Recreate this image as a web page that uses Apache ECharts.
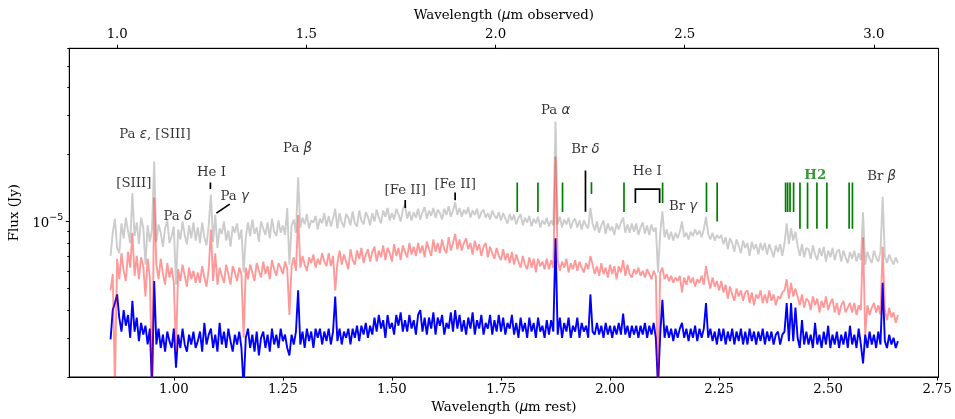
<!DOCTYPE html>
<html><head><meta charset="utf-8">
<script src="https://cdn.jsdelivr.net/npm/echarts@6/dist/echarts.min.js"></script>
<style>html,body{margin:0;padding:0;background:#fff}#c{width:955px;height:419px}</style>
</head><body><div id="c"></div>
<script>
// Rest-frame wavelength sampling of the spectra (µm)
const WL_START = 0.855, WL_STEP = 0.005;
// Flux values in units of 1e-6 Jy
const greyFlux = [
7.0,8.9,10.3,7.6,7.2,9.8,8.4,10.4,9.1,8.0,13.4,8.6,9.9,7.9,10.4,9.4,6.4,9.6,8.1,9.2,
18.6,8.1,9.7,8.9,7.7,9.3,10.1,8.0,8.6,9.5,5.2,9.2,8.3,10.0,8.7,7.9,9.6,8.4,9.9,8.2,
9.4,8.0,9.9,8.5,7.8,9.6,13.2,8.1,10.7,7.6,9.3,8.8,10.0,8.2,9.1,7.7,9.5,8.9,9.8,8.3,
9.2,5.9,8.5,9.9,8.6,10.2,8.8,9.4,8.1,10.0,9.3,8.7,9.9,8.4,10.3,9.0,8.6,10.1,8.9,9.6,
8.7,11.5,6.4,9.6,10.2,8.9,15.8,9.4,10.4,9.7,10.8,9.3,10.1,9.9,10.6,9.2,10.3,9.8,10.9,9.5,
10.6,9.5,10.3,11.4,9.3,10.9,9.9,9.4,10.8,10.4,9.6,11.1,9.8,9.5,11.2,10.1,9.7,11.0,10.5,9.6,
10.9,10.0,11.3,10.4,9.8,11.2,10.5,11.5,10.1,10.9,10.2,11.4,10.8,10.0,11.3,11.9,10.3,11.1,10.1,11.0,
10.4,11.4,10.2,11.0,11.6,10.3,11.2,10.6,11.5,10.4,11.3,10.9,10.2,11.4,10.7,11.7,10.5,11.2,12.2,10.7,
11.5,10.5,11.3,10.8,11.6,10.4,11.2,10.7,11.4,10.3,11.0,11.3,10.4,10.9,10.2,11.2,10.6,10.3,11.0,10.1,
10.9,10.3,9.8,10.8,10.1,10.7,9.7,10.4,10.8,9.6,10.4,9.9,10.6,9.5,10.3,9.8,10.5,9.4,10.1,9.7,
10.4,9.5,10.1,9.6,28.1,9.7,10.5,9.4,10.2,9.7,10.4,9.3,10.0,10.3,9.4,10.1,9.2,10.1,9.6,9.3,
11.5,9.8,9.1,10.0,8.9,9.6,10.1,8.8,9.8,9.1,9.5,8.7,9.8,9.2,9.9,10.4,8.9,9.7,8.9,9.8,
9.0,9.8,8.7,9.4,9.9,8.8,9.6,8.7,9.7,9.0,9.4,5.9,8.8,11.1,8.5,9.2,8.3,9.0,8.2,8.9,
8.4,9.0,10.0,8.5,8.9,8.3,9.0,8.6,9.2,8.7,9.1,8.5,9.2,10.5,8.8,8.3,8.9,8.2,8.7,8.4,
8.7,7.9,8.5,7.5,8.4,8.0,7.3,8.3,7.8,7.2,8.2,7.6,8.0,7.0,8.1,7.5,7.9,7.1,8.0,7.4,
8.0,7.1,7.9,7.4,6.9,7.8,7.3,7.9,7.0,8.0,9.8,7.9,9.3,8.2,9.0,7.8,7.0,7.9,6.9,7.6,
7.5,6.8,7.8,7.1,6.7,7.6,7.0,7.7,6.6,7.4,6.9,7.6,6.7,7.3,7.5,6.6,7.4,6.9,6.5,7.3,
6.8,7.4,6.6,7.2,6.7,11.0,6.4,7.3,6.8,6.5,7.4,6.9,6.6,7.3,12.9,7.0,6.5,7.1,6.7,6.4,
6.9,6.5
];
const redFlux = [
4.9,5.8,1.8,6.8,5.5,7.2,6.0,5.4,7.3,6.2,8.9,5.7,7.0,5.5,6.9,6.3,4.6,6.8,5.6,1.8,
12.8,6.4,5.5,6.8,5.8,5.2,6.5,5.6,6.2,5.3,2.6,6.1,5.4,6.4,5.7,5.1,6.2,5.5,6.0,5.3,
5.9,5.3,6.3,5.6,5.1,6.1,9.2,5.4,7.2,5.2,6.2,5.7,5.3,6.4,5.8,5.2,6.3,5.9,5.4,6.2,
5.8,3.0,6.2,5.5,6.4,5.9,5.4,6.5,6.0,5.6,6.6,5.8,6.3,5.5,6.7,6.1,5.7,6.5,6.2,5.8,
6.6,6.1,3.8,6.3,6.9,6.0,10.7,6.2,7.0,6.4,6.0,6.9,6.5,7.1,6.2,6.8,6.4,7.2,6.6,6.3,
7.2,6.3,7.0,4.9,6.5,7.4,6.4,7.1,6.6,6.1,7.5,6.7,6.4,7.4,6.8,7.6,6.5,7.1,7.5,6.6,
7.3,7.7,6.6,7.4,6.9,7.8,6.7,7.6,7.2,6.6,7.9,7.0,7.6,6.7,7.8,7.3,6.9,8.0,7.1,7.7,
7.0,8.0,7.2,7.8,6.9,8.1,7.5,7.0,8.3,7.3,8.0,7.2,8.3,7.5,7.2,8.5,7.4,8.0,8.8,7.5,
8.3,7.4,8.0,8.4,7.5,8.0,7.1,8.2,7.4,7.9,7.0,7.7,8.0,6.9,7.7,7.2,6.8,7.6,7.0,6.7,
7.5,6.7,7.2,6.5,7.3,6.4,7.1,6.6,6.2,7.0,6.4,6.1,6.9,6.2,6.8,5.9,6.8,6.3,6.6,6.1,
6.8,6.1,6.7,6.2,19.6,6.7,6.0,6.6,6.2,6.8,5.9,6.5,6.1,6.7,6.0,6.6,6.2,5.9,6.5,6.1,
7.0,6.4,5.8,6.3,5.7,6.5,5.8,6.2,5.6,6.4,5.8,6.3,5.5,6.3,5.9,6.7,5.7,6.4,5.8,5.6,
6.1,5.8,6.2,5.7,6.0,5.6,6.1,5.8,5.5,6.0,5.7,1.8,5.9,6.2,5.5,5.8,5.4,5.7,5.3,5.6,
5.4,5.7,4.8,5.6,5.2,5.7,5.3,5.6,5.1,5.5,5.3,5.7,5.2,6.3,5.5,5.0,5.6,5.1,5.4,4.9,
5.4,4.8,5.2,4.5,5.1,4.7,4.4,5.0,4.6,4.9,4.4,4.8,4.9,4.3,4.8,4.2,4.7,4.5,4.9,4.3,
4.7,4.3,4.9,4.4,4.7,4.2,4.6,4.5,4.8,4.9,5.5,4.5,5.3,4.6,5.0,4.6,4.2,4.7,4.1,4.5,
4.4,4.0,4.6,4.2,4.5,3.9,4.4,4.1,4.6,4.0,4.3,4.5,3.9,4.3,3.8,4.2,4.4,3.9,4.1,4.3,
3.9,4.3,3.8,4.2,4.0,8.5,3.1,4.2,3.8,4.1,4.3,3.9,4.2,3.8,7.7,4.0,3.6,4.1,3.7,3.9,
3.5,3.8
];
const blueFlux = [
2.95,4.0,4.3,4.7,3.7,3.2,4.0,3.4,3.8,3.0,4.4,3.2,3.7,2.9,3.5,3.1,3.4,2.8,3.3,1.8,
5.4,2.8,3.3,2.7,3.1,2.6,3.2,2.9,2.7,3.3,2.2,3.1,2.7,3.3,2.8,2.6,3.1,2.8,3.2,2.7,
2.9,3.2,2.6,3.5,2.8,3.1,3.3,2.7,3.1,2.6,3.5,2.8,3.2,2.7,3.3,2.9,2.6,3.1,2.8,3.2,
2.7,1.8,3.0,3.3,2.7,3.1,2.6,3.2,2.5,3.0,3.2,2.7,3.1,2.6,3.3,2.8,3.1,2.7,3.3,2.9,
3.1,2.7,2.5,3.1,2.8,3.2,4.9,2.8,3.2,2.7,3.3,2.9,3.2,2.7,3.3,3.0,3.3,2.8,3.2,2.9,
3.3,2.8,3.2,4.6,2.9,3.3,2.8,3.2,3.0,3.3,2.8,3.3,3.0,3.4,2.9,3.4,3.1,3.5,3.0,3.4,
3.1,3.7,3.2,3.8,3.3,3.6,3.0,3.8,3.3,3.5,3.1,3.8,3.4,3.9,3.2,3.6,3.2,3.8,3.3,3.6,
3.1,3.8,4.0,3.2,3.7,3.1,3.7,3.3,3.9,3.1,3.7,3.4,3.8,3.1,3.5,3.3,3.9,3.2,4.0,3.3,
3.8,3.2,3.6,3.1,3.7,3.3,3.9,3.1,3.6,3.3,3.8,3.1,3.5,3.3,3.8,3.1,3.6,3.2,3.8,3.2,
3.7,3.1,3.5,3.3,3.8,3.1,3.5,3.0,3.7,3.2,3.5,3.0,3.7,3.2,3.5,3.0,3.7,3.2,3.4,3.0,
3.6,3.1,3.6,3.2,8.4,3.1,3.7,3.0,3.5,3.2,3.7,3.0,3.4,3.2,3.7,3.0,3.5,3.2,3.4,3.0,
4.7,3.2,3.1,3.5,3.1,3.4,3.0,3.5,3.1,3.4,3.0,3.4,3.1,3.5,3.1,3.85,3.1,3.4,3.0,3.4,
3.1,3.4,3.0,3.4,3.1,3.5,3.0,3.4,3.1,3.5,3.0,1.8,3.1,4.45,3.0,3.4,3.0,3.3,2.9,3.3,
3.0,3.3,3.5,3.0,3.3,2.9,3.3,3.0,3.4,2.9,3.3,3.0,3.3,4.3,3.0,3.3,2.9,3.2,2.8,3.3,
2.9,3.3,2.8,3.2,2.9,3.3,2.8,3.2,2.9,3.3,2.8,3.2,2.8,3.3,2.9,3.2,2.8,3.2,2.9,3.3,
2.8,3.2,2.9,3.2,2.8,3.1,3.2,2.8,3.1,3.2,4.3,2.9,4.3,2.9,4.1,3.0,2.7,3.6,2.8,3.2,
2.8,3.1,2.7,3.5,2.8,3.1,2.7,3.2,2.8,3.4,2.7,3.1,2.8,3.2,2.7,3.1,2.8,3.2,2.7,3.4,
2.8,3.1,2.7,3.3,2.8,2.3,3.1,2.7,3.2,2.8,3.1,2.7,3.2,2.8,5.3,2.9,2.7,3.1,2.8,3.0,
2.7,2.9
];
// Axis ticks
const restTicks = [1.00, 1.25, 1.50, 1.75, 2.00, 2.25, 2.50, 2.75];
const obsTicks = [1.0, 1.5, 2.0, 2.5, 3.0];
const yMajorTicks = [1e-5];
const yMinorTicks = [2e-6,3e-6,4e-6,5e-6,6e-6,7e-6,8e-6,9e-6,2e-5,3e-5,4e-5,5e-5,6e-5];
// H2 line markers: [rest wavelength, top flux, bottom flux] (1e-6 Jy)
const h2Lines = [
[1.7873,14.97,11.02],[1.8347,14.97,11.02],[1.8911,14.97,11.02],[1.9574,15.0,13.3],
[2.0320,14.97,11.02],[2.1205,14.97,12.1],[2.2211,14.97,11.02],[2.2456,14.97,10.0],
[2.4025,14.97,11.02],[2.4071,14.97,11.02],[2.4126,14.97,11.02],[2.4208,14.97,11.02],
[2.4354,14.97,9.27],[2.4528,14.97,9.27],[2.4743,14.97,9.27],[2.4971,14.97,9.27],
[2.5481,14.97,9.27],[2.5557,14.97,9.27]
];
// Black annotation strokes: list of [wavelength, flux(1e-6 Jy)] points
const blackMarks = [
[[1.0839,14.97],[1.0839,13.98]],
[[1.0976,10.9],[1.1281,11.97]],
[[1.5305,12.5],[1.5305,11.5]],
[[1.6449,13.5],[1.6449,12.45]],
[[1.9437,16.95],[1.9437,11.06]],
[[2.0581,12.1],[2.0581,13.98],[2.1137,13.98],[2.1137,12.1]]
];
// Line labels: text, wavelength, flux (1e-6 Jy)
const lineLabels = [
['Pa {g|ε}, [SIII]', 0.9566, 24.5],
['[SIII]', 0.9085, 14.8],
['He I', 1.0862, 16.6],
['Pa {g|γ}', 1.1395, 13.0],
['Pa {g|δ}', 1.0091, 10.5],
['Pa {g|β}', 1.2836, 21.2],
['[Fe II]', 1.5305, 13.7],
['[Fe II]', 1.6449, 14.6],
['Pa {g|α}', 1.8751, 31.4],
['Br {g|δ}', 1.9437, 21.1],
['He I', 2.0855, 16.7],
['Br {g|γ}', 2.1674, 11.7],
['{h|H2}', 2.4704, 16.1],
['Br {g|β}', 2.6225, 15.9]
];

const wl = greyFlux.map((_, i) => Math.round((WL_START + i * WL_STEP) * 1e4) / 1e4);
const toData = arr => arr.map((f, i) => [wl[i], f * 1e-6]);
const SERIF = 'DejaVu Serif';
const FS = 13.3;
const TXT = '#000';
const richStyles = {
  g: {fontFamily: 'DejaVu Sans', fontStyle: 'italic', fontSize: FS, color: TXT},
  h: {fontFamily: SERIF, fontWeight: 'bold', fontSize: FS, color: '#008000'}
};

const chart = echarts.init(document.getElementById('c'), null, {renderer: 'canvas'});
chart.setOption({
  animation: false,
  backgroundColor: '#fff',
  grid: {left: 69.3, right: 15, top: 48.3, bottom: 41.3, containLabel: false, show: true, borderColor: '#000', borderWidth: 1},
  xAxis: [
    {type: 'value', position: 'bottom', min: 0.7604, max: 2.753,
     axisLine: {show: true, lineStyle: {color: '#000', width: 1}},
     axisTick: {show: true, customValues: restTicks, length: 3.5, lineStyle: {color: '#000', width: 1}},
     axisLabel: {customValues: restTicks, formatter: v => v.toFixed(2), color: TXT, fontFamily: SERIF, fontSize: FS, margin: 6},
     splitLine: {show: false},
     name: 'Wavelength ({g|μ}m rest)', nameLocation: 'middle', nameGap: 24,
     nameTextStyle: {fontFamily: SERIF, fontSize: FS, color: TXT, rich: richStyles}},
    {type: 'value', position: 'top', min: 0.8734, max: 3.1707,
     axisLine: {show: true, lineStyle: {color: '#000', width: 1}},
     axisTick: {show: true, customValues: obsTicks, length: 3.5, lineStyle: {color: '#000', width: 1}},
     axisLabel: {customValues: obsTicks, formatter: v => v.toFixed(1), color: TXT, fontFamily: SERIF, fontSize: FS, margin: 7},
     splitLine: {show: false},
     name: 'Wavelength ({g|μ}m observed)', nameLocation: 'middle', nameGap: 26,
     nameTextStyle: {fontFamily: SERIF, fontSize: FS, color: TXT, rich: richStyles}}
  ],
  yAxis: [
    {type: 'log', logBase: 10, min: 2e-6, max: 6e-5, position: 'left', offset: 0,
     axisLine: {show: true, lineStyle: {color: '#000', width: 1}},
     axisTick: {show: true, customValues: yMajorTicks, length: 3.5, lineStyle: {color: '#000', width: 1}},
     axisLabel: {customValues: yMajorTicks, margin: 6, color: TXT,
       formatter: v => { const e = Math.round(Math.log10(v)); return '{b|10}{s|' + (e < 0 ? '−' : '') + Math.abs(e) + '}'; },
       rich: {b: {fontFamily: SERIF, fontSize: FS, color: TXT, lineHeight: 17, verticalAlign: 'bottom'},
              s: {fontFamily: 'DejaVu Sans', fontSize: 9.5, color: TXT, lineHeight: 10, verticalAlign: 'top'}}},
     splitLine: {show: false},
     name: 'Flux (Jy)', nameLocation: 'middle', nameGap: 44,
     nameTextStyle: {fontFamily: SERIF, fontSize: FS, color: TXT}},
    {type: 'log', logBase: 10, min: 2e-6, max: 6e-5, position: 'left', offset: 0,
     axisLine: {show: false},
     axisTick: {show: true, customValues: yMinorTicks, length: 2, lineStyle: {color: '#000', width: 1}},
     axisLabel: {show: false}, splitLine: {show: false}}
  ],
  series: [
    {type: 'line', data: toData(greyFlux), symbol: 'none', showSymbol: false, z: 2,
     lineStyle: {color: '#cccccc', width: 1.9}, clip: true},
    {type: 'line', data: toData(blueFlux), symbol: 'none', showSymbol: false, z: 3,
     lineStyle: {color: '#0000ff', width: 1.9}, clip: true},
    {type: 'line', data: toData(redFlux), symbol: 'none', showSymbol: false, z: 4,
     lineStyle: {color: 'rgba(255,0,0,0.4)', width: 1.9}, clip: true},
    {type: 'lines', coordinateSystem: 'cartesian2d', polyline: true, z: 5, silent: true,
     lineStyle: {color: '#008000', width: 1.7, opacity: 1},
     data: h2Lines.map(([w, t, b]) => ({coords: [[w, t * 1e-6], [w, b * 1e-6]]}))},
    {type: 'lines', coordinateSystem: 'cartesian2d', polyline: true, z: 5, silent: true,
     lineStyle: {color: '#000', width: 1.7, opacity: 1},
     data: blackMarks.map(pts => ({coords: pts.map(([w, f]) => [w, f * 1e-6])}))},
    {type: 'scatter', z: 6, symbolSize: 1, itemStyle: {color: 'rgba(0,0,0,0)'}, silent: true,
     data: lineLabels.map(([t, w, f]) => ({value: [w, f * 1e-6], label: {formatter: t}})),
     label: {show: true, position: 'inside', color: TXT, fontFamily: SERIF, fontSize: FS, rich: richStyles}}
  ]
});
</script>
</body></html>
